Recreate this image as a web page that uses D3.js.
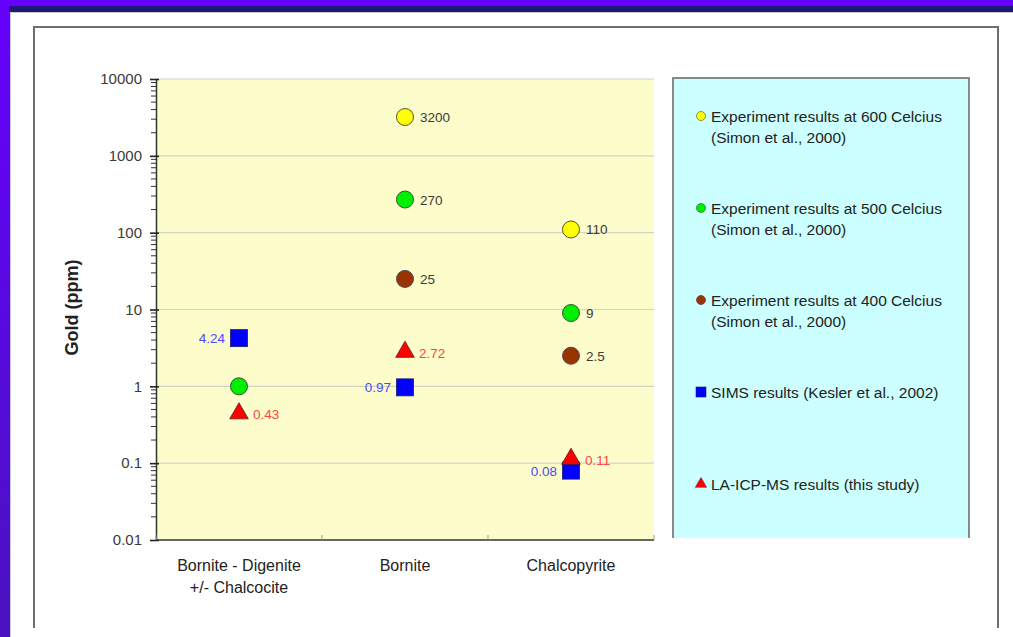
<!DOCTYPE html>
<html>
<head>
<meta charset="utf-8">
<script src="https://cdn.jsdelivr.net/npm/d3@7"></script>
<style>
  html, body { margin: 0; padding: 0; background: #fff; }
  svg { display: block; font-family: Arial, "Liberation Sans", sans-serif; }
</style>
</head>
<body>
<svg id="chart" width="1013" height="637"></svg>
<script>
// categories along the x axis (two-line labels split by \n)
const categories = ["Bornite - Digenite\n+/- Chalcocite", "Bornite", "Chalcopyrite"];

// gold values (ppm) per category, null = no point
const exp600 = [null, 3200, 110];
const exp500 = [1, 270, 9];
const exp400 = [null, 25, 2.5];
const sims   = [4.24, 0.97, 0.08];
const laicp  = [0.43, 2.72, 0.11];

// labels printed next to the points
const exp600Labels = ["", "3200", "110"];
const exp500Labels = ["", "270", "9"];
const exp400Labels = ["", "25", "2.5"];
const simsLabels   = ["4.24", "0.97", "0.08"];
const laicpLabels  = ["0.43", "2.72", "0.11"];

const yTicks = [0.01, 0.1, 1, 10, 100, 1000, 10000];

const legendLabels = [
  ["Experiment results at 600 Celcius", "(Simon et al., 2000)"],
  ["Experiment results at 500 Celcius", "(Simon et al., 2000)"],
  ["Experiment results at 400 Celcius", "(Simon et al., 2000)"],
  ["SIMS results (Kesler et al., 2002)"],
  ["LA-ICP-MS results (this study)"]
];

const svg = d3.select("#chart");

// ---- slide frame ----
const defs = svg.append("defs");
const grad = defs.append("linearGradient")
  .attr("id", "side").attr("x1", 0).attr("y1", 0).attr("x2", 0).attr("y2", 1);
grad.append("stop").attr("offset", "0%").attr("stop-color", "#6600ff");
grad.append("stop").attr("offset", "100%").attr("stop-color", "#4a12c0");

svg.append("rect").attr("width", 1013).attr("height", 637).attr("fill", "url(#side)");
svg.append("rect").attr("x", 0).attr("y", 0).attr("width", 1013).attr("height", 6).attr("fill", "#6600ff");
svg.append("rect").attr("x", 9).attr("y", 6).attr("width", 1004).attr("height", 6).attr("fill", "#1c1a72");
svg.append("rect").attr("x", 10).attr("y", 12).attr("width", 1003).attr("height", 625).attr("fill", "#c8c8d0");
svg.append("rect").attr("x", 11).attr("y", 13).attr("width", 1002).attr("height", 624).attr("fill", "#ffffff");

// chart outer border (bottom is cut off)
svg.append("path")
  .attr("d", "M34,628 V27 H998 V628")
  .attr("fill", "none")
  .attr("stroke", "#6e6e6e")
  .attr("stroke-width", 2);

// ---- plot area ----
const plot = { left: 156, right: 654, top: 79, bottom: 540 };

const x = d3.scaleBand()
  .domain(d3.range(categories.length))
  .range([plot.left, plot.right]);

const y = d3.scaleLog()
  .domain([0.01, 10000])
  .range([plot.bottom, plot.top]);

svg.append("rect")
  .attr("x", plot.left).attr("y", plot.top)
  .attr("width", plot.right - plot.left).attr("height", plot.bottom - plot.top)
  .attr("fill", "#fdfccb");

// gridlines at each decade
svg.append("g")
  .selectAll("line")
  .data(yTicks.slice(1))
  .join("line")
  .attr("x1", plot.left).attr("x2", plot.right)
  .attr("y1", d => y(d)).attr("y2", d => y(d))
  .attr("stroke", "#d4d4c4")
  .attr("stroke-width", 1.2);

// y axis: minor ticks
const minor = [];
yTicks.slice(0, -1).forEach(t => {
  for (let k = 2; k <= 9; k++) minor.push(t * k);
});
svg.append("g")
  .selectAll("line")
  .data(minor)
  .join("line")
  .attr("x1", plot.left - 5).attr("x2", plot.left)
  .attr("y1", d => y(d)).attr("y2", d => y(d))
  .attr("stroke", "#333").attr("stroke-width", 1);

const yAxis = d3.axisLeft(y)
  .tickValues(yTicks)
  .tickFormat(d => d3.format("~g")(d))
  .tickSizeInner(6)
  .tickSizeOuter(0)
  .tickPadding(8);

const gy = svg.append("g")
  .attr("transform", `translate(${plot.left},0)`)
  .call(yAxis);
gy.select(".domain").attr("stroke", "#333").attr("stroke-width", 1.5);
gy.selectAll(".tick line").attr("stroke", "#222").attr("stroke-width", 1.6).attr("x2", 3).attr("x1", -6);
gy.selectAll(".tick text")
  .attr("fill", "#3a3a3a")
  .style("font-size", "15px");

// y title
svg.append("text")
  .attr("transform", `translate(78,${(plot.top + plot.bottom) / 2 - 2}) rotate(-90)`)
  .attr("text-anchor", "middle")
  .style("font-size", "18px")
  .style("font-weight", "bold")
  .attr("fill", "#222")
  .text("Gold (ppm)");

// x axis
svg.append("line")
  .attr("x1", plot.left).attr("x2", plot.right)
  .attr("y1", plot.bottom).attr("y2", plot.bottom)
  .attr("stroke", "#333").attr("stroke-width", 1.5);
svg.append("g")
  .selectAll("line")
  .data(d3.range(categories.length + 1))
  .join("line")
  .attr("x1", i => plot.left + i * x.bandwidth())
  .attr("x2", i => plot.left + i * x.bandwidth())
  .attr("y1", plot.bottom - 5).attr("y2", plot.bottom)
  .attr("stroke", "#999").attr("stroke-width", 1);

const xLabels = svg.append("g")
  .selectAll("text")
  .data(categories)
  .join("text")
  .attr("x", (d, i) => x(i) + x.bandwidth() / 2)
  .attr("y", plot.bottom + 31)
  .attr("text-anchor", "middle")
  .style("font-size", "16px")
  .attr("fill", "#222");
xLabels.each(function(d) {
  const t = d3.select(this);
  d.split("\n").forEach((line, j) => {
    t.append("tspan")
      .attr("x", t.attr("x"))
      .attr("dy", j === 0 ? 0 : 22)
      .text(line);
  });
});

// ---- points ----
const cx = i => x(i) + x.bandwidth() / 2;

function circles(values, labels, fill, stroke) {
  const g = svg.append("g");
  values.forEach((v, i) => {
    if (v == null) return;
    g.append("circle")
      .attr("cx", cx(i)).attr("cy", y(v)).attr("r", 8.5)
      .attr("fill", fill).attr("stroke", stroke).attr("stroke-width", 1);
    if (labels[i]) {
      g.append("text")
        .attr("x", cx(i) + 15).attr("y", y(v) + 5)
        .style("font-size", "13.5px")
        .attr("fill", "#3a3a3a")
        .text(labels[i]);
    }
  });
}

circles(exp600, exp600Labels, "#ffff00", "#555533");
circles(exp500, exp500Labels, "#00ee00", "#335533");
circles(exp400, exp400Labels, "#993300", "#554466");

const gs = svg.append("g");
sims.forEach((v, i) => {
  gs.append("rect")
    .attr("x", cx(i) - 8.5).attr("y", y(v) - 8.5)
    .attr("width", 17).attr("height", 17)
    .attr("fill", "#0000ff").attr("stroke", "#1a1a6a").attr("stroke-width", 0.8);
  gs.append("text")
    .attr("x", cx(i) - 14).attr("y", y(v) + 5)
    .attr("text-anchor", "end")
    .style("font-size", "13.5px")
    .attr("fill", "#4a4aff")
    .text(simsLabels[i]);
});

const tri = d3.symbol().type(d3.symbolTriangle).size(150);
const gt = svg.append("g");
laicp.forEach((v, i) => {
  gt.append("path")
    .attr("d", tri())
    .attr("transform", `translate(${cx(i)},${y(v) - 1})`)
    .attr("fill", "#ff0000").attr("stroke", "#552222").attr("stroke-width", 0.8);
  gt.append("text")
    .attr("x", cx(i) + 14).attr("y", y(v) + 5)
    .style("font-size", "13.5px")
    .attr("fill", "#ff4444")
    .text(laicpLabels[i]);
});

// ---- legend ----
const legend = { x: 673, y: 78, w: 296, h: 460 };
svg.append("rect")
  .attr("x", legend.x).attr("y", legend.y)
  .attr("width", legend.w).attr("height", legend.h)
  .attr("fill", "#ccffff");
svg.append("path")
  .attr("d", `M${legend.x},${legend.y + legend.h} V${legend.y} H${legend.x + legend.w} V${legend.y + legend.h}`)
  .attr("fill", "none").attr("stroke", "#666").attr("stroke-width", 1.5);

const legendY = [116, 208, 300, 392, 484];
const legendMarks = [
  { kind: "circle", fill: "#ffff00", stroke: "#777733" },
  { kind: "circle", fill: "#00ee00", stroke: "#337733" },
  { kind: "circle", fill: "#993300", stroke: "#664444" },
  { kind: "square", fill: "#0000ff", stroke: "#1a1a6a" },
  { kind: "triangle", fill: "#ff0000", stroke: "#772222" }
];
const lg = svg.append("g");
legendLabels.forEach((lines, i) => {
  const ly = legendY[i];
  const m = legendMarks[i];
  if (m.kind === "circle") {
    lg.append("circle").attr("cx", 701).attr("cy", ly).attr("r", 4.5)
      .attr("fill", m.fill).attr("stroke", m.stroke).attr("stroke-width", 0.8);
  } else if (m.kind === "square") {
    lg.append("rect").attr("x", 696).attr("y", ly - 5).attr("width", 10).attr("height", 10)
      .attr("fill", m.fill).attr("stroke", m.stroke).attr("stroke-width", 0.6);
  } else {
    lg.append("path").attr("d", d3.symbol().type(d3.symbolTriangle).size(55)())
      .attr("transform", `translate(701,${ly})`)
      .attr("fill", m.fill).attr("stroke", m.stroke).attr("stroke-width", 0.6);
  }
  lines.forEach((t, j) => {
    lg.append("text")
      .attr("x", 711).attr("y", ly + 5.5 + j * 21)
      .style("font-size", "15.5px")
      .attr("fill", "#222")
      .text(t);
  });
});
</script>
</body>
</html>
